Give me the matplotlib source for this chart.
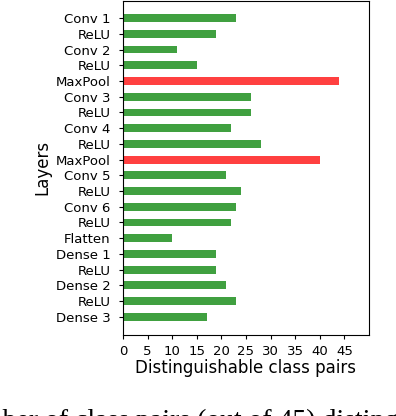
import matplotlib
matplotlib.use("Agg")
import matplotlib.pyplot as plt

layers = ["Conv 1", "ReLU", "Conv 2", "ReLU", "MaxPool", "Conv 3", "ReLU", "Conv 4", "ReLU",
          "MaxPool", "Conv 5", "ReLU", "Conv 6", "ReLU", "Flatten", "Dense 1", "ReLU",
          "Dense 2", "ReLU", "Dense 3"]
pairs = [23, 19, 11, 15, 44, 26, 26, 22, 28, 40, 21, 24, 23, 22, 10, 19, 19, 21, 23, 17]
xticks = [0, 5, 10, 15, 20, 25, 30, 35, 40, 45]

# pooling layers highlighted
colors = ["red" if l == "MaxPool" else "green" for l in layers]

fig = plt.figure(figsize=(3.96, 4.16), dpi=100)
ax = fig.add_axes([0.3106, 0.195, 0.6212, 0.803])
ax.barh(range(len(layers)), pairs, height=0.5, color=colors, alpha=0.75)
ax.set_yticks(range(len(layers)))
ax.set_yticklabels(layers, fontsize=9.5)
ax.set_ylim(len(layers) - 1 + 1.15, -1.1)
ax.set_xlim(0, 50)
ax.set_xticks(xticks)
ax.set_xticklabels([str(t) for t in xticks], fontsize=9.5)
ax.tick_params(axis="y", length=3, pad=6)
ax.tick_params(axis="x", length=3, pad=4)
ax.set_xlabel("Distinguishable class pairs", fontsize=12, labelpad=1)
ax.set_ylabel("Layers", fontsize=12, labelpad=3)

# caption of the source figure, cut by the crop
fig.text(-0.133, 0.0168, "Number of class pairs (out of 45) distinguishable",
         fontsize=20, family="Liberation Serif", ha="left", va="top")

fig.savefig("out.png", dpi=100)
